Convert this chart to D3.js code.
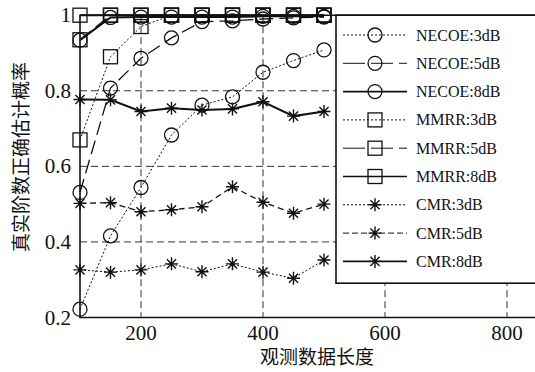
<!DOCTYPE html>
<html>
<head>
<meta charset="utf-8">
<script src="https://cdn.jsdelivr.net/npm/d3@7.9.0/dist/d3.min.js"></script>
<style>
  html, body { margin: 0; padding: 0; background: #fff; }
  svg { display: block; }
  .tick-label { font-family: "Liberation Serif", "Times New Roman", serif; font-size: 21px; fill: #111; }
  .legend-label { font-family: "Liberation Serif", "Times New Roman", serif; font-size: 16px; fill: #111; }
  .axis-title { font-family: "Noto Sans CJK SC", sans-serif; font-size: 19px; fill: #111; }
</style>
</head>
<body>
<svg width="535" height="372"></svg>
<script>
const lengths = [100, 150, 200, 250, 300, 350, 400, 450, 500];

const necoe3 = [0.222, 0.416, 0.544, 0.683, 0.762, 0.784, 0.849, 0.880, 0.908];
const necoe5 = [0.531, 0.807, 0.886, 0.940, 0.983, 0.985, 0.990, 0.993, 0.995];
const necoe8 = [0.934, 0.994, 0.995, 0.995, 0.995, 0.995, 0.997, 0.997, 0.997];
const mmrr3 = [0.670, 0.890, 0.970, 1, 1, 1, 1, 1, 1];
const mmrr5 = [0.935, 1, 1, 1, 1, 1, 1, 1, 1];
const mmrr8 = [1, 1, 1, 1, 1, 1, 1, 1, 1];
const cmr3 = [0.326, 0.320, 0.326, 0.342, 0.321, 0.342, 0.320, 0.304, 0.352];
const cmr5 = [0.502, 0.504, 0.480, 0.485, 0.493, 0.546, 0.505, 0.476, 0.500];
const cmr8 = [0.777, 0.776, 0.745, 0.754, 0.749, 0.752, 0.771, 0.733, 0.745];

const xTicks = [200, 400, 600, 800];
const yTicks = [0.2, 0.4, 0.6, 0.8, 1];
const yTickText = ['0.2', '0.4', '0.6', '0.8', '1'];

const series = [
  { name: 'NECOE:3dB', values: necoe3, marker: 'circle', dash: '2,2', width: 1 },
  { name: 'NECOE:5dB', values: necoe5, marker: 'circle', dash: '14,6', width: 1.3 },
  { name: 'NECOE:8dB', values: necoe8, marker: 'circle', dash: null, width: 2 },
  { name: 'MMRR:3dB', values: mmrr3, marker: 'square', dash: '2,2', width: 1 },
  { name: 'MMRR:5dB', values: mmrr5, marker: 'square', dash: '14,6', width: 1.3 },
  { name: 'MMRR:8dB', values: mmrr8, marker: 'square', dash: null, width: 2 },
  { name: 'CMR:3dB', values: cmr3, marker: 'star', dash: '2,2', width: 1 },
  { name: 'CMR:5dB', values: cmr5, marker: 'star', dash: '6,4', width: 1.3 },
  { name: 'CMR:8dB', values: cmr8, marker: 'star', dash: null, width: 2 },
];

const svg = d3.select('svg');
const pLeft = 80, pRight = 537.5, pTop = 15.2, pBottom = 317.5;

const x = d3.scaleLinear().domain([100, 850]).range([pLeft, pRight]);
const y = d3.scaleLinear().domain([0.2, 1]).range([pBottom, pTop]);

svg.append('defs').append('clipPath').attr('id', 'plot')
  .append('rect').attr('x', pLeft - 10).attr('y', pTop - 10)
  .attr('width', pRight - pLeft + 20).attr('height', pBottom - pTop + 20);

// grid
const grid = svg.append('g').attr('stroke', '#333').attr('stroke-width', 1).attr('stroke-dasharray', '7,4');
xTicks.forEach((t) => {
  grid.append('line').attr('x1', x(t)).attr('x2', x(t)).attr('y1', pTop).attr('y2', pBottom);
});
yTicks.filter((t) => t > 0.2 && t < 1).forEach((t) => {
  grid.append('line').attr('x1', pLeft).attr('x2', pRight).attr('y1', y(t)).attr('y2', y(t));
});

// frame
svg.append('path')
  .attr('d', `M${pRight},${pTop}H${pLeft}V${pBottom}H${pRight}`)
  .attr('fill', 'none').attr('stroke', '#111').attr('stroke-width', 1.6);

// tick labels
svg.append('g').selectAll('text').data(xTicks).join('text')
  .attr('class', 'tick-label').attr('x', (d) => x(d)).attr('y', pBottom + 22.5)
  .attr('text-anchor', 'middle').text((d) => d);

svg.append('g').selectAll('text').data(yTicks).join('text')
  .attr('class', 'tick-label').attr('x', pLeft - 9).attr('y', (d) => y(d) + 7)
  .attr('text-anchor', 'end').text((d, i) => yTickText[i]);

// axis titles
svg.append('text').attr('class', 'axis-title')
  .attr('x', 317).attr('y', 364).attr('text-anchor', 'middle').text('观测数据长度');
svg.append('text').attr('class', 'axis-title')
  .attr('transform', 'translate(28,157) rotate(-90)')
  .attr('text-anchor', 'middle').text('真实阶数正确估计概率');

function drawMarker(g, type, cx, cy) {
  if (type === 'circle') {
    g.append('circle').attr('cx', cx).attr('cy', cy).attr('r', 7)
      .attr('fill', 'none').attr('stroke', '#111').attr('stroke-width', 1.3);
  } else if (type === 'square') {
    g.append('rect').attr('x', cx - 7).attr('y', cy - 7).attr('width', 14).attr('height', 14)
      .attr('fill', 'none').attr('stroke', '#111').attr('stroke-width', 1.3);
  } else {
    const r = 6.5, d = r * 0.7;
    g.append('path')
      .attr('d', `M${cx - r},${cy}H${cx + r}M${cx},${cy - r}V${cy + r}M${cx - d},${cy - d}L${cx + d},${cy + d}M${cx - d},${cy + d}L${cx + d},${cy - d}`)
      .attr('stroke', '#111').attr('stroke-width', 1.4);
  }
}

const plot = svg.append('g').attr('clip-path', 'url(#plot)');
const line = d3.line().x((d) => x(d[0])).y((d) => y(d[1]));

series.forEach((s) => {
  const pts = lengths.map((l, i) => [l, s.values[i]]);
  plot.append('path').datum(pts).attr('d', line)
    .attr('fill', 'none').attr('stroke', '#111').attr('stroke-width', s.width)
    .attr('stroke-dasharray', s.dash);
  pts.forEach((p) => drawMarker(plot, s.marker, x(p[0]), y(p[1])));
});

// legend
const lg = svg.append('g');
lg.append('rect').attr('x', 336).attr('y', pTop).attr('width', 210).attr('height', 268)
  .attr('fill', '#fff').attr('stroke', '#111').attr('stroke-width', 1.6);
series.forEach((s, i) => {
  const cy = 35 + i * 28.3;
  lg.append('line').attr('x1', 343).attr('x2', 407).attr('y1', cy).attr('y2', cy)
    .attr('stroke', '#111').attr('stroke-width', s.width === 2 ? 1.6 : 1)
    .attr('stroke-dasharray', s.dash === '14,6' ? '22,6' : (s.dash === '6,4' ? '6,3' : s.dash));
  drawMarker(lg, s.marker, 375, cy);
  lg.append('text').attr('class', 'legend-label').attr('x', 416).attr('y', cy + 5.5).text(s.name);
});
</script>
</body>
</html>
